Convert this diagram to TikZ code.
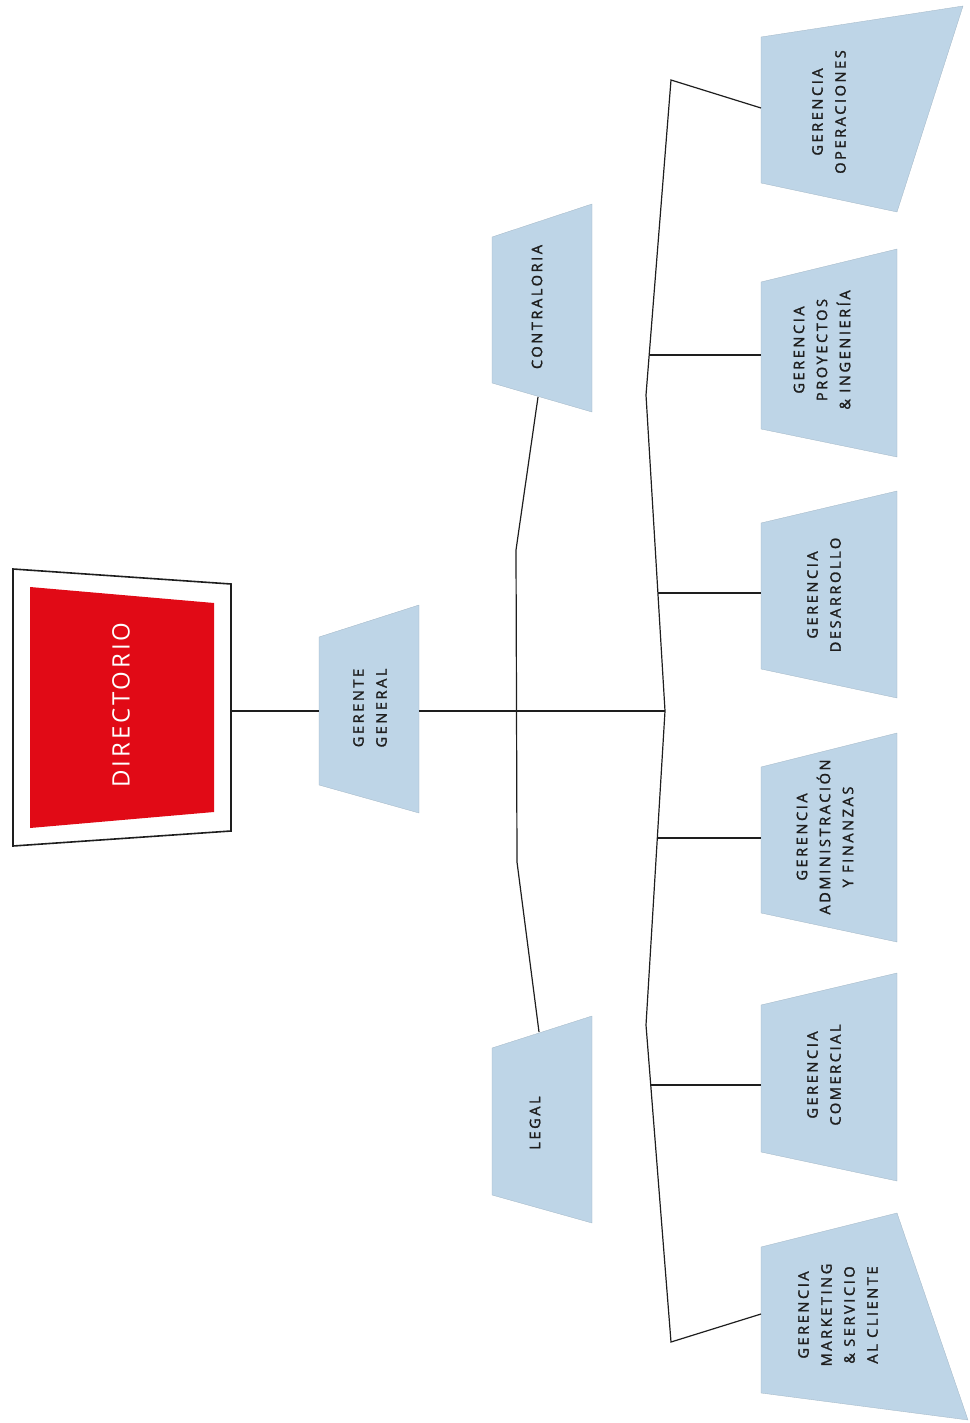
\documentclass[tikz,border=0pt]{standalone}
\usepackage{fontspec}
\setmainfont{Open Sans}
\newfontfamily\boxfont[LetterSpace=18,FakeBold=1.8]{Open Sans}
\newfontfamily\dirfont[LetterSpace=12]{Open Sans}
\definecolor{boxblue}{RGB}{190,213,231}
\definecolor{dirred}{RGB}{225,10,22}
\definecolor{inkline}{RGB}{30,30,30}
\begin{document}
\begin{tikzpicture}[x=1pt,y=-1pt,
  bluebox/.style={fill=boxblue,draw=boxblue!85!black,line width=0.3pt},
  boxlabel/.style={rotate=90,align=center,inner sep=0pt,text=inkline,
    font=\boxfont\fontsize{14.5}{23}\selectfont},
  wire/.style={draw=inkline,line width=1.2pt,line join=miter}]
\useasboundingbox (0,0) rectangle (969,1423);
% Directorio
\draw[fill=white,draw=inkline,line width=1.6pt] (13,569) -- (231,584) -- (231,831) -- (13,846) -- cycle;
\fill[dirred] (30,587) -- (214,603) -- (214,812) -- (30,828) -- cycle;
\node[rotate=90,inner sep=0pt,text=white,font=\dirfont\fontsize{24}{28}\selectfont] (dir) at (121,705) {DIRECTORIO};
\coordinate (dirE) at (231,711);
% Gerente general
\path[bluebox] (319,637) -- (419,605) -- (419,813) -- (319,785) -- cycle;
\node[boxlabel] (gg) at (370,708) {GERENTE\\GENERAL};
\coordinate (ggW) at (319,711);
\coordinate (ggE) at (419,711);
% Contraloria
\path[bluebox] (492,237) -- (592,204) -- (592,412) -- (492,383) -- cycle;
\node[boxlabel] (contra) at (537,307) {CONTRALORIA};
\coordinate (contraS) at (538,397);
% Legal
\path[bluebox] (492,1048) -- (592,1016) -- (592,1223) -- (492,1195) -- cycle;
\node[boxlabel] (legal) at (535,1123) {LEGAL};
\coordinate (legalN) at (539,1032);
% Right column
\path[bluebox] (761,37) -- (963,6) -- (897,212) -- (761,183) -- cycle;
\node[boxlabel] (ope) at (829,112) {GERENCIA\\OPERACIONES};
\coordinate (opeW) at (761,108);
\path[bluebox] (761,282) -- (897,249) -- (897,457) -- (761,429) -- cycle;
\node[boxlabel] (pro) at (822,350) {GERENCIA\\PROYECTOS\\\& INGENIERÍA};
\coordinate (proW) at (761,355);
\path[bluebox] (761,523) -- (897,491) -- (897,698) -- (761,669) -- cycle;
\node[boxlabel] (des) at (824,595) {GERENCIA\\DESARROLLO};
\coordinate (desW) at (761,593);
\path[bluebox] (761,767) -- (897,733) -- (897,942) -- (761,913) -- cycle;
\node[boxlabel] (adm) at (825,837) {GERENCIA\\ADMINISTRACIÓN\\Y FINANZAS};
\coordinate (admW) at (761,838);
\path[bluebox] (761,1005) -- (897,973) -- (897,1181) -- (761,1152) -- cycle;
\node[boxlabel] (com) at (824,1075) {GERENCIA\\COMERCIAL};
\coordinate (comW) at (761,1085);
\path[bluebox] (761,1247) -- (897,1213) -- (968,1420) -- (761,1393) -- cycle;
\node[boxlabel] (mkt) at (838,1315) {GERENCIA\\MARKETING\\\& SERVICIO\\AL CLIENTE};
\coordinate (mktW) at (761,1314);
% bracket coordinates
\coordinate (a1) at (516,550);
\coordinate (a2) at (517,862);
\coordinate (v0) at (671,80);
\coordinate (v1) at (646,395);
\coordinate (v2) at (665,711);
\coordinate (v3) at (646,1025);
\coordinate (v4) at (671,1342);
\coordinate (hpro) at (649,355);
\coordinate (hdes) at (658,593);
\coordinate (hadm) at (657,838);
\coordinate (hcom) at (651,1085);
% connectors
\draw[wire] (dirE) -- (ggW);
\draw[wire] (ggE) -- (v2);
\draw[wire] (contraS) -- (a1) -- (a2) -- (legalN);
\draw[wire] (opeW) -- (v0) -- (v1) -- (v2) -- (v3) -- (v4) -- (mktW);
\draw[wire] (hpro) -- (proW);
\draw[wire] (hdes) -- (desW);
\draw[wire] (hadm) -- (admW);
\draw[wire] (hcom) -- (comW);
\end{tikzpicture}
\end{document}
